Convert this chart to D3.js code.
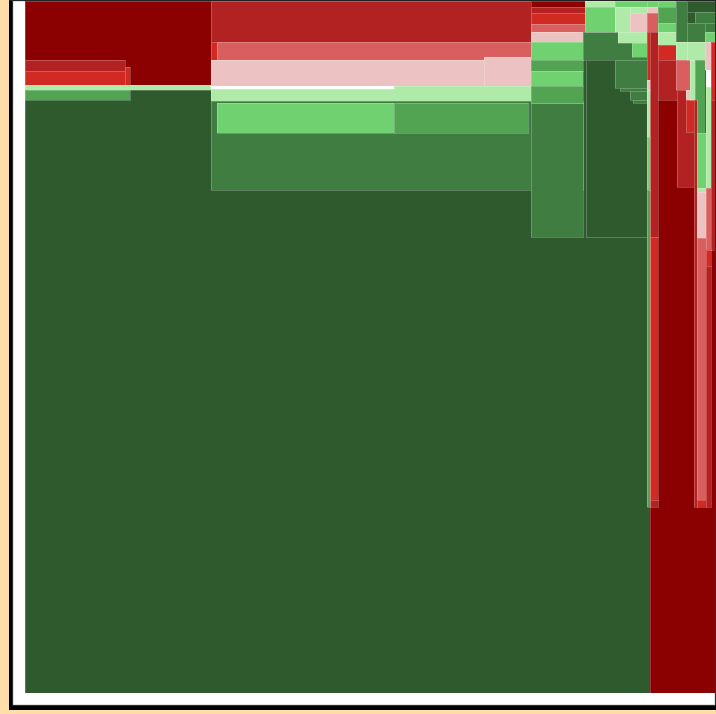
<!DOCTYPE html>
<html>
<head>
<meta charset="UTF-8">
<title>Diverging mosaic</title>
<script src="https://d3js.org/d3.v7.min.js"></script>
<style>
  body { margin: 0; padding: 0; background: #ffdeaa; overflow: hidden; }
  svg { display: block; }
  .cell { stroke: rgba(255,255,255,0.22); stroke-width: 1px; shape-rendering: crispEdges; }
</style>
</head>
<body>
<div id="chart"></div>
<script>
  // colour classes, strong loss -> strong gain (10 = neutral / white)
  const levels  = [0, 1, 2, 3, 4, 5, 6, 7, 8, 9, 10];
  const palette = ["#8b0000", "#b22222", "#d02a22", "#d95f5f", "#ecc2c2",
                   "#b0eaa8", "#6fd16f", "#52a352", "#407d40", "#2e5a2e", "#ffffff"];

  // cells: [x0, y0, x1, y1, level] in chart units (690 x 692)
  const base = [
    [0, 0, 625, 692, 9],
    [625, 59, 691, 692, 0]
  ];
  const topLeft = [
    [0, 0, 186, 84, 0],
    [0, 59, 100, 70, 1],
    [0, 70, 100, 84, 2],
    [100, 66, 105, 84, 2],
    [0, 84, 186, 89, 5],
    [0, 89, 105, 99, 7]
  ];
  const middle = [
    [186, 0, 506, 41, 1],
    [186, 41, 192, 59, 2],
    [192, 41, 506, 59, 3],
    [186, 59, 459, 85, 4],
    [459, 56, 506, 85, 4],
    [186, 85, 506, 100, 5],
    [186, 85, 369, 88, 10],
    [186, 100, 558, 189, 8],
    [192, 102, 369, 132, 6],
    [369, 102, 503, 132, 7],
    [506, 102, 558, 236, 8]
  ];
  const column = [
    [506, 0, 560, 6, 0],
    [506, 6, 560, 12, 1],
    [506, 12, 560, 23, 2],
    [506, 23, 560, 31, 3],
    [506, 31, 558, 41, 4],
    [506, 41, 558, 59, 6],
    [506, 59, 558, 70, 7],
    [506, 70, 558, 85, 6],
    [506, 85, 558, 102, 7]
  ];
  const topRight = [
    [558, 31, 623, 59, 8],
    [561, 59, 625, 236, 9],
    [560, 0, 590, 6, 5],
    [560, 6, 590, 31, 6],
    [590, 0, 623, 6, 6],
    [590, 6, 605, 31, 5],
    [605, 6, 622, 12, 5],
    [605, 12, 622, 31, 4],
    [593, 31, 622, 42, 5],
    [607, 42, 622, 56, 6],
    [590, 59, 623, 87, 8],
    [595, 87, 623, 90, 8],
    [605, 90, 623, 99, 8],
    [608, 99, 623, 102, 8]
  ];
  const rightCols = [
    [622, 0, 633, 6, 6],
    [622, 6, 633, 12, 4],
    [622, 12, 633, 31, 3],
    [622, 31, 626, 79, 2],
    [625, 31, 633, 236, 1],
    [625, 236, 633, 499, 2],
    [625, 499, 633, 506, 1],
    [622, 79, 625, 89, 4],
    [622, 89, 625, 136, 5],
    [622, 136, 625, 189, 6],
    [622, 189, 625, 506, 7],
    [633, 0, 651, 6, 6],
    [633, 6, 651, 22, 7],
    [633, 22, 651, 31, 6],
    [633, 31, 651, 44, 5],
    [633, 44, 651, 59, 2],
    [633, 59, 652, 99, 1],
    [651, 0, 662, 41, 8],
    [651, 41, 665, 59, 5],
    [651, 59, 665, 89, 3],
    [652, 89, 669, 186, 1],
    [661, 89, 669, 99, 4],
    [661, 99, 669, 131, 2],
    [665, 59, 670, 99, 5],
    [662, 0, 691, 11, 9],
    [662, 11, 670, 22, 9],
    [670, 11, 691, 22, 8],
    [662, 22, 680, 41, 8],
    [680, 22, 691, 31, 8],
    [680, 31, 691, 41, 6],
    [662, 41, 680, 59, 5],
    [670, 59, 680, 132, 7],
    [669, 99, 672, 506, 1],
    [672, 132, 681, 187, 6],
    [672, 187, 681, 191, 5],
    [672, 191, 681, 237, 4],
    [672, 237, 681, 499, 3],
    [672, 499, 681, 506, 2],
    [680, 41, 686, 69, 4],
    [681, 69, 686, 86, 10],
    [681, 86, 686, 187, 5],
    [681, 187, 686, 249, 3],
    [681, 249, 686, 265, 2],
    [681, 265, 686, 506, 1],
    [686, 41, 691, 99, 2],
    [686, 99, 691, 249, 1]
  ];

  const cells = [...base, ...topLeft, ...middle, ...column, ...topRight, ...rightCols];

  const width = 716, height = 714;
  const x = d3.scaleLinear().domain([0, 690]).range([25, 715]);
  const y = d3.scaleLinear().domain([0, 692]).range([1, 693]);
  const color = d3.scaleOrdinal().domain(levels).range(palette);

  const svg = d3.select("#chart").append("svg")
      .attr("width", width)
      .attr("height", height);

  // frame: black shadow + white panel
  svg.append("rect").attr("x", 9).attr("y", -10).attr("width", 730).attr("height", 720).attr("fill", "#000");
  svg.append("rect").attr("x", 13).attr("y", 1).attr("width", 702).attr("height", 704)
      .attr("fill", "#fff").attr("stroke", "#999").attr("stroke-width", 0.6);

  svg.append("defs").append("clipPath").attr("id", "plot")
    .append("rect")
      .attr("x", x(0)).attr("y", y(0))
      .attr("width", x(690) - x(0)).attr("height", y(692) - y(0));

  svg.append("g")
      .attr("clip-path", "url(#plot)")
    .selectAll("rect")
    .data(cells)
    .join("rect")
      .attr("class", "cell")
      .attr("x", d => x(d[0]))
      .attr("y", d => y(d[1]))
      .attr("width", d => x(d[2]) - x(d[0]))
      .attr("height", d => y(d[3]) - y(d[1]))
      .attr("fill", d => color(d[4]));

  // thin dark line along the top edge
  svg.append("line")
      .attr("x1", 9).attr("x2", width).attr("y1", 0.5).attr("y2", 0.5)
      .attr("stroke", "#222").attr("stroke-width", 1);
</script>
</body>
</html>
